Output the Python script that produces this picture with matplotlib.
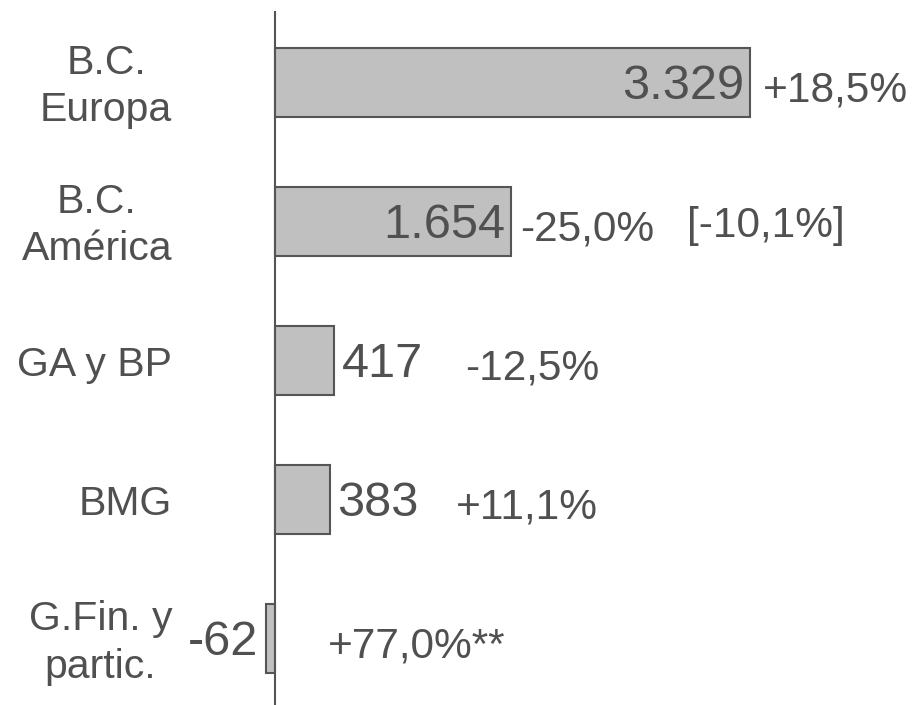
import matplotlib.pyplot as plt
import numpy as np

plt.rcParams["font.family"] = ["Liberation Sans", "DejaVu Sans"]

# resultado por área de negocio (millones)
areas = ["B.C.\nEuropa", "B.C.\nAmérica", "GA y BP", "BMG", "G.Fin. y\npartic."]
valores = [3329, 1654, 417, 383, -62]
etiquetas = ["3.329", "1.654", "417", "383", "-62"]
variacion = ["+18,5%", "-25,0%", "-12,5%", "+11,1%", "+77,0%**"]
var_x = [3420, 1720, 1330, 1265, 370]
extra = "[-10,1%]"

gris_txt = "#505050"

fig = plt.figure(figsize = (9.15, 7.05), dpi = 100)
ax = fig.add_axes([0, 0, 1, 693 / 705])

y = np.arange(len(areas))
ax.barh(y, valores, height = 0.49, color = "#c0c0c0",
        edgecolor = "#555555", linewidth = 1.5, zorder = 2)

ax.set_xlim(-1927, 4485)
ax.set_ylim(4.478, -0.507)

for s in ["top", "right", "bottom"]:
    ax.spines[s].set_visible(False)
ax.spines["left"].set_position(("data", 0))
ax.spines["left"].set_color("#555555")
ax.spines["left"].set_linewidth(1.5)
ax.set_xticks([])
ax.set_yticks([])

# valores: dentro de la barra si es grande, fuera si es pequeña
for i, v in enumerate(valores):
    if v > 1000:
        ax.text(v - 40, i + 0.03, etiquetas[i], ha = "right", va = "center",
                fontsize = 35, color = gris_txt)
    elif v > 0:
        ax.text(v + 50, i + 0.03, etiquetas[i], ha = "left", va = "center",
                fontsize = 35, color = gris_txt)
    else:
        ax.text(v - 55, i + 0.03, etiquetas[i], ha = "right", va = "center",
                fontsize = 35, color = gris_txt)

for i, t in enumerate(variacion):
    ax.text(var_x[i], i + 0.06, t, ha = "left", va = "center",
            fontsize = 30.5, color = gris_txt)
ax.text(2890, 1.03, extra, ha = "left", va = "center", fontsize = 30.5, color = gris_txt)

for i, a in enumerate(areas):
    ax.text(-720, i + 0.03, a, ha = "right", va = "center", fontsize = 29.5,
            color = gris_txt, linespacing = 1.32, multialignment = "center")

fig.savefig("out.png", dpi = 100, facecolor = "w")
